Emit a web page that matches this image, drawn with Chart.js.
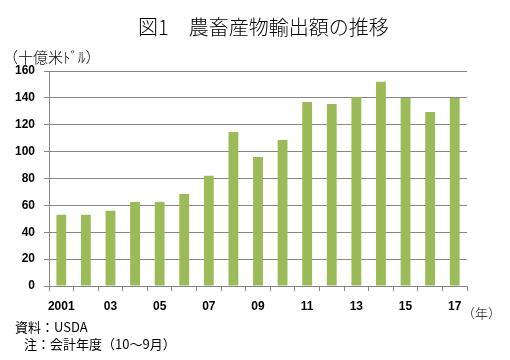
<!DOCTYPE html>
<html>
<head>
<meta charset="utf-8">
<script src="https://cdn.jsdelivr.net/npm/chart.js@4"></script>
<style>
  html, body { margin: 0; padding: 0; background: #fff; }
  #wrap { position: relative; width: 510px; height: 360px; }
  canvas { position: absolute; left: 0; top: 0; }
  .t { position: absolute; white-space: nowrap; font-family: "Noto Sans CJK JP", sans-serif; color: #000; line-height: 1; transform: translateY(-50%); font-weight: 300; }
</style>
</head>
<body>
<div id="wrap">
  <canvas id="c" width="510" height="360"></canvas>
  <div class="t" style="left:138px; top:27px; font-size:20px;">図1　農畜産物輸出額の推移</div>
  <div class="t" style="left:3px; top:56px; font-size:15px;">（十億米ﾄﾞﾙ）</div>
  <div class="t" style="left:462px; top:312px; font-size:13px;">（年）</div>
  <div class="t" style="left:15px; top:326px; font-size:13px; font-weight:400;">資料：USDA</div>
  <div class="t" style="left:24px; top:343px; font-size:13px; font-weight:400;">注：会計年度（10～9月）</div>
</div>
<script>
const categories = ['2001','02','03','04','05','06','07','08','09','10','11','12','13','14','15','16','17'];
const exportValues = [53, 53, 56, 62.5, 62.5, 68.5, 82, 114.6, 96, 108.6, 137, 135.5, 140.6, 152, 140, 129.5, 140];
const yTicks = [0, 20, 40, 60, 80, 100, 120, 140, 160];

const gridColor = '#868686';
const tickFont = { family: 'Liberation Sans, Arial, sans-serif', size: 12, weight: 'bold' };

new Chart(document.getElementById('c'), {
  type: 'bar',
  data: {
    labels: categories,
    datasets: [{
      data: exportValues,
      backgroundColor: '#9BBB59',
      borderWidth: 0,
      barPercentage: 0.4,
      categoryPercentage: 1.0
    }]
  },
  options: {
    responsive: false,
    animation: false,
    devicePixelRatio: 1,
    layout: { padding: { top: 71, right: 43, left: 0, bottom: 0 } },
    plugins: { legend: { display: false }, title: { display: false }, tooltip: { enabled: false } },
    scales: {
      x: {
        offset: true,
        grid: { offset: true, drawOnChartArea: false, drawTicks: true, tickLength: 5, color: gridColor, lineWidth: 1 },
        border: { display: true, color: gridColor, width: 1 },
        ticks: {
          autoSkip: false, maxRotation: 0, minRotation: 0, padding: 8,
          color: '#000', font: tickFont,
          callback: function(v, i) { return i % 2 === 0 ? categories[i] : ''; }
        },
        afterFit: function(s) { s.height = 74; }
      },
      y: {
        min: 0, max: 160,
        afterBuildTicks: function(s) { s.ticks = yTicks.map(v => ({ value: v })); },
        grid: { color: gridColor, lineWidth: 1, drawTicks: true, tickLength: 5 },
        border: { display: true, color: gridColor, width: 1 },
        ticks: { padding: 9, color: '#000', font: tickFont },
        afterFit: function(s) { s.width = 49; }
      }
    }
  }
});
</script>
</body>
</html>
